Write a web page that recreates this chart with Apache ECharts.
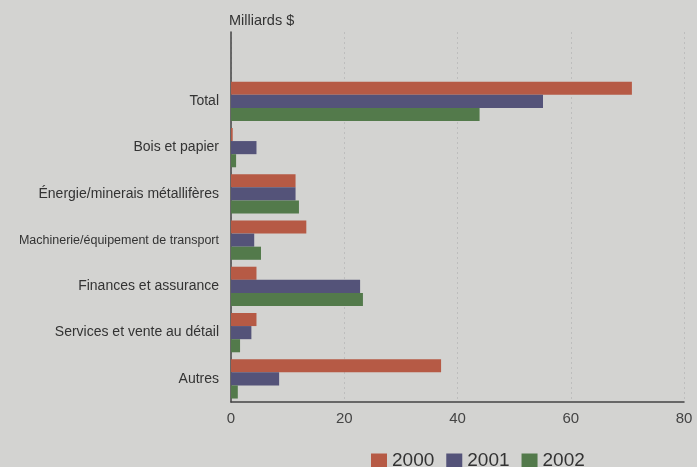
<!DOCTYPE html>
<html><head><meta charset="utf-8">
<script src="https://cdn.jsdelivr.net/npm/echarts@6/dist/echarts.min.js"></script>
<style>html,body{margin:0;padding:0;background:#d3d3d1;}#c{width:697px;height:467px;}</style>
</head><body><div id="c"></div>
<script>
var categories = ["", "Total", "Bois et papier", "Énergie/minerais métallifères", "Machinerie/équipement de transport", "Finances et assurance", "Services et vente au détail", "Autres"];
var years = ["2000", "2001", "2002"];
var v2000 = [null, 70.8, 0.3, 11.4, 13.3, 4.5, 4.5, 37.1];
var v2001 = [null, 55.1, 4.5, 11.4, 4.1, 22.8, 3.6, 8.5];
var v2002 = [null, 43.9, 0.9, 12.0, 5.3, 23.3, 1.6, 1.2];
var xTicks = [0, 20, 40, 60, 80];
var colors = ["#b65a45", "#545379", "#537a4b"];

var chart = echarts.init(document.getElementById('c'));
var seriesData = [v2000, v2001, v2002];
chart.setOption({
  backgroundColor: '#d3d3d1',
  animation: false,
  textStyle: {fontFamily: 'Liberation Sans, Arial, sans-serif'},
  grid: {left: 231, right: 13, top: 32, bottom: 65, containLabel: false},
  legend: {
    data: years, left: 366, top: 446,
    itemWidth: 16, itemHeight: 14, itemGap: 12,
    icon: 'rect',
    textStyle: {fontSize: 19, color: '#333'}
  },
  xAxis: {
    type: 'value', min: xTicks[0], max: xTicks[xTicks.length-1], interval: 20,
    axisLine: {show: true, lineStyle: {color: '#444', width: 1.5}},
    axisTick: {show: false},
    axisLabel: {fontSize: 15, color: '#444', margin: 9},
    splitLine: {show: true, lineStyle: {type: [2,3], color: '#bdbdbd'}}
  },
  yAxis: {
    type: 'category', data: categories, inverse: true,
    name: 'Milliards $', nameLocation: 'start', nameGap: 4,
    nameTextStyle: {fontSize: 14.5, color: '#333', align: 'left', padding: [0,0,0,-2]},
    axisLine: {show: true, lineStyle: {color: '#444', width: 1.5}},
    axisTick: {show: false},
    axisLabel: {
      fontSize: 14, color: '#333', margin: 12,
      formatter: function (v) { return v.indexOf('Machinerie') === 0 ? '{s|' + v + '}' : v; },
      rich: {s: {fontSize: 12.5, color: '#333'}}
    }
  },
  series: years.map(function (y, i) {
    return {
      name: y, type: 'bar', data: seriesData[i],
      barGap: '0%', barCategoryGap: '15%',
      itemStyle: {color: colors[i]}
    };
  })
});
</script></body></html>
